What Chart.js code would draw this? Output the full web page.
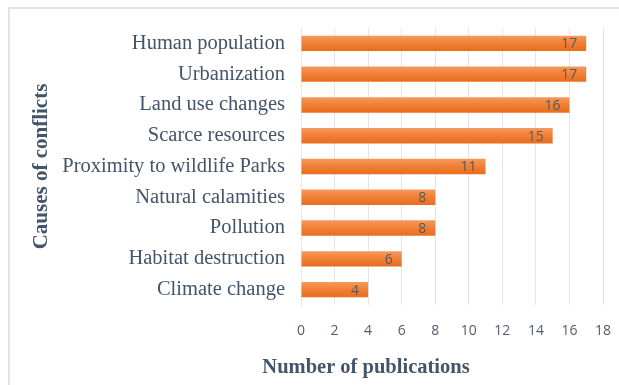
<!DOCTYPE html>
<html>
<head>
<meta charset="utf-8">
<script src="https://cdn.jsdelivr.net/npm/chart.js@4.4.1/dist/chart.umd.min.js"></script>
<style>
  html, body { margin: 0; padding: 0; background: #fff; }
  #wrap { position: relative; width: 619px; height: 385px; overflow: hidden; }
  #frame { position: absolute; left: 8px; top: 7px; width: 640px; height: 400px;
           border: 2px solid #e1e5eb; box-sizing: border-box; }
  canvas { position: absolute; left: 0; top: 0; }
</style>
</head>
<body>
<div id="wrap">
  <div id="frame"></div>
  <canvas id="causesChart" width="619" height="385"></canvas>
</div>
<script>
const causes = [
    'Human population',
    'Urbanization',
    'Land use changes',
    'Scarce resources',
    'Proximity to wildlife Parks',
    'Natural calamities',
    'Pollution',
    'Habitat destruction',
    'Climate change'
];
const publications = [17, 17, 16, 15, 11, 8, 8, 6, 4];
const xTicks = [0, 2, 4, 6, 8, 10, 12, 14, 16, 18];

const textColor = '#44546a';
const tickColor = '#525c6c';

// orange bars shaded lighter at the top edge
function barFill(context) {
    const chart = context.chart;
    if (!chart.chartArea) return '#ed7d31';
    const y = chart.scales.y.getPixelForValue(context.dataIndex);
    const g = chart.ctx.createLinearGradient(0, y - 8, 0, y + 8);
    g.addColorStop(0, '#f69a5c');
    g.addColorStop(0.5, '#f07f36');
    g.addColorStop(1, '#e86c1c');
    return g;
}

// value labels at the inner end of each bar, plus the x axis title
const valueLabels = {
    id: 'valueLabels',
    afterDatasetsDraw(chart) {
        const ctx = chart.ctx;
        const meta = chart.getDatasetMeta(0);
        ctx.save();
        ctx.font = '14px "Open Sans", sans-serif';
        ctx.fillStyle = '#595959';
        ctx.textAlign = 'right';
        ctx.textBaseline = 'middle';
        meta.data.forEach((bar, i) => {
            ctx.fillText(String(publications[i]), bar.x - 9, bar.y + 1);
        });
        ctx.font = 'bold 20.5px "Liberation Serif", serif';
        ctx.fillStyle = textColor;
        ctx.textAlign = 'center';
        ctx.fillText('Number of publications', 366, 368);
        ctx.restore();
    }
};

const ctx = document.getElementById('causesChart').getContext('2d');
new Chart(ctx, {
    type: 'bar',
    data: {
        labels: causes,
        datasets: [{
            label: 'Number of publications',
            data: publications,
            backgroundColor: barFill,
            borderWidth: 0,
            barPercentage: 0.5,
            categoryPercentage: 1.0
        }]
    },
    options: {
        indexAxis: 'y',
        responsive: false,
        animation: false,
        layout: { padding: { left: 10, right: 16, top: 28, bottom: 0 } },
        plugins: {
            legend: { display: false },
            tooltip: { enabled: false }
        },
        scales: {
            x: {
                min: 0,
                max: 18,
                afterBuildTicks: s => { s.ticks = xTicks.map(v => ({ value: v })); },
                afterFit: s => {
                    s.height = 80;
                    s.paddingRight = 0;
                    s.paddingLeft = 0;
                },
                grid: { color: '#e4e4ea', drawTicks: false },
                border: { display: false },
                ticks: {
                    padding: 18,
                    color: tickColor,
                    font: { family: '"Open Sans", sans-serif', size: 14 }
                }
            },
            y: {
                afterFit: s => { s.width = 291; },
                grid: { display: false },
                border: { color: '#e4e4ea' },
                ticks: {
                    padding: 8,
                    color: textColor,
                    font: { family: '"Liberation Serif", serif', size: 20.5 }
                },
                title: {
                    display: true,
                    text: 'Causes of conflicts',
                    color: textColor,
                    font: { family: '"Liberation Serif", serif', size: 21, weight: 'bold' },
                    padding: { top: 19, bottom: 0 }
                }
            }
        }
    },
    plugins: [valueLabels]
});
</script>
</body>
</html>
